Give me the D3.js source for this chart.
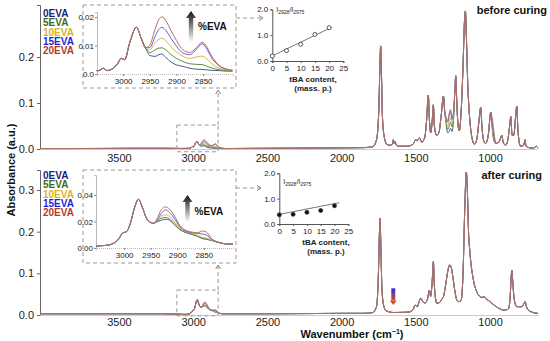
<!DOCTYPE html>
<html>
<head>
<meta charset="utf-8">
<script src="https://cdn.jsdelivr.net/npm/d3@7/dist/d3.min.js"></script>
<style>
  body { margin: 0; background: #fff; }
  svg { display: block; font-family: "Liberation Sans", Arial, sans-serif; }
</style>
</head>
<body>
<script>
// series
var seriesNames = ['0EVA', '5EVA', '10EVA', '15EVA', '20EVA'];
var legendColors = ['#1b1b82', '#3f6b1c', '#d8b41e', '#1f1fd6', '#b53a26'];
var lineColors = ['#4a5a92', '#5d8c40', '#d2b84a', '#6b5fd6', '#b0705f'];

var xTicks = [3500, 3000, 2500, 2000, 1500, 1000];
var insetTicks = [3000, 2950, 2900, 2850];
var tbaTicks = [0, 5, 10, 15, 20, 25];

// before curing, parts all samples share: [wavenumber, absorbance]
var beforeCommon = [
  [4032, 0.001], [3800, 0.001], [3600, 0.0012], [3400, 0.0015], [3200, 0.0015], [3100, 0.0012], [3060, 0.0012],
  [2785, 0.001], [2500, 0.0015], [2200, 0.002], [2000, 0.0025], [1850, 0.003], [1790, 0.005],
  [1765, 0.02], [1750, 0.08], [1742, 0.18], [1737, 0.224], [1732, 0.17], [1725, 0.07], [1712, 0.025],
  [1695, 0.01], [1670, 0.008], [1657, 0.012], [1652, 0.02], [1646, 0.012], [1640, 0.017], [1634, 0.01],
  [1615, 0.006], [1560, 0.006], [1520, 0.01], [1500, 0.02], [1490, 0.018], [1475, 0.024], [1460, 0.015],
  [1440, 0.025], [1428, 0.06], [1416, 0.117], [1408, 0.06], [1400, 0.035], [1390, 0.06], [1382, 0.096],
  [1375, 0.05], [1360, 0.03], [1345, 0.035], [1330, 0.07], [1314, 0.115], [1305, 0.08],
  [1238, 0.12], [1231, 0.159], [1224, 0.1], [1215, 0.05], [1207, 0.04], [1195, 0.08], [1182, 0.18],
  [1172, 0.28], [1166, 0.3], [1160, 0.25], [1150, 0.14], [1138, 0.07], [1125, 0.03], [1105, 0.01],
  [1090, 0.02], [1075, 0.06], [1063, 0.09], [1055, 0.05], [1040, 0.015], [1030, 0.012], [1012, 0.03],
  [995, 0.08], [960, 0.012], [940, 0.015], [928, 0.025], [921, 0.03], [912, 0.015], [895, 0.008],
  [880, 0.02], [868, 0.05], [860, 0.07], [852, 0.03], [840, 0.03], [828, 0.07], [820, 0.093],
  [812, 0.04], [795, 0.006], [775, 0.008], [768, 0.015], [764, 0.02], [758, 0.006], [720, 0.002],
  [700, 0.003], [690, 0.006], [677, 0.002]
];
// before curing, 1300-1245 band that grows with EVA
var beforeBandWn = [1298, 1285, 1275, 1266, 1256, 1247];
var beforeBand = [
  [0.06, 0.035, 0.038, 0.045, 0.038, 0.06],
  [0.062, 0.042, 0.05, 0.058, 0.048, 0.065],
  [0.065, 0.05, 0.06, 0.068, 0.056, 0.07],
  [0.068, 0.058, 0.072, 0.082, 0.064, 0.075],
  [0.07, 0.062, 0.078, 0.086, 0.068, 0.078]
];
var beforeBand2Wn = [985, 975];
var beforeBand2 = [
  [0.045, 0.02], [0.045, 0.02], [0.05, 0.025], [0.055, 0.03], [0.065, 0.04]
];
// before curing, C-H stretch region
var chBeforeCommon = [
  [3050, 0.0012], [3046, 0.0012], [3037, 0.002], [3030, 0.0012], [3021, 0.0017], [3012, 0.0032],
  [3003, 0.0055], [2997, 0.005], [2988, 0.0108], [2975, 0.0164], [2966, 0.0125], [2958, 0.0092]
];
var chBeforeWn = [2950, 2940, 2933, 2927, 2920, 2910, 2900, 2888, 2875, 2862, 2852, 2845, 2835, 2820, 2805, 2795];
var chBefore = [
  [0.0065, 0.0062, 0.0068, 0.007, 0.0058, 0.0042, 0.0032, 0.0027, 0.002, 0.0017, 0.0016, 0.0015, 0.0013, 0.0012, 0.001, 0.001],
  [0.0075, 0.0085, 0.0091, 0.0092, 0.0085, 0.0068, 0.0055, 0.0044, 0.0036, 0.0034, 0.0033, 0.0029, 0.0022, 0.0015, 0.0012, 0.0011],
  [0.0085, 0.011, 0.0122, 0.0126, 0.0117, 0.0095, 0.0078, 0.0062, 0.0055, 0.006, 0.0063, 0.0056, 0.0038, 0.002, 0.0014, 0.0012],
  [0.0093, 0.0132, 0.0157, 0.0164, 0.0153, 0.0125, 0.0098, 0.0074, 0.0068, 0.0088, 0.0106, 0.0094, 0.006, 0.0028, 0.0016, 0.0013],
  [0.0102, 0.0158, 0.0192, 0.0201, 0.0188, 0.0152, 0.0118, 0.0085, 0.0076, 0.0094, 0.0112, 0.0101, 0.0066, 0.003, 0.0017, 0.0013]
];

// after curing
var afterCommon = [
  [4032, 0.003], [3800, 0.003], [3500, 0.003], [3200, 0.003], [3060, 0.0015],
  [2790, 0.003], [2500, 0.003], [2200, 0.0035], [2000, 0.004], [1850, 0.004], [1790, 0.006],
  [1765, 0.02], [1752, 0.1], [1745, 0.2], [1741, 0.232], [1736, 0.17], [1728, 0.06], [1715, 0.02],
  [1700, 0.01], [1650, 0.006], [1550, 0.007], [1520, 0.012], [1505, 0.024], [1490, 0.02], [1475, 0.035],
  [1467, 0.04], [1455, 0.033], [1438, 0.029], [1420, 0.04], [1409, 0.06], [1400, 0.045], [1390, 0.08],
  [1382, 0.128], [1375, 0.07], [1365, 0.035], [1359, 0.028], [1340, 0.03], [1325, 0.038], [1314, 0.044],
  [1300, 0.07], [1285, 0.105], [1272, 0.12], [1262, 0.115], [1250, 0.09], [1238, 0.06], [1224, 0.036],
  [1210, 0.032], [1195, 0.035], [1182, 0.1], [1170, 0.26], [1160, 0.343], [1153, 0.3], [1145, 0.2],
  [1135, 0.148], [1112, 0.084], [1090, 0.056], [1067, 0.044], [1055, 0.042], [1040, 0.044], [1025, 0.038],
  [1011, 0.035], [988, 0.028], [950, 0.018], [910, 0.012], [885, 0.013], [876, 0.015], [865, 0.04],
  [858, 0.09], [853, 0.108], [847, 0.08], [838, 0.04], [820, 0.02], [786, 0.02], [772, 0.027],
  [764, 0.032], [755, 0.02], [742, 0.012], [710, 0.006], [685, 0.004], [677, 0.004]
];
var chAfterCommon = [
  [3053, 0.0015], [3040, 0.0018], [3030, 0.0022], [3020, 0.0035], [3010, 0.007], [3003, 0.0112],
  [2995, 0.0125], [2988, 0.019], [2980, 0.031], [2973, 0.0367], [2966, 0.031], [2958, 0.0225],
  [2950, 0.0192], [2945, 0.0186]
];
var chAfterWn = [2938, 2930, 2922, 2915, 2905, 2895, 2885, 2872, 2862, 2852, 2845, 2835, 2820, 2805, 2795];
var chAfter = [
  [0.0198, 0.021, 0.0217, 0.021, 0.0175, 0.0138, 0.0118, 0.0102, 0.0088, 0.007, 0.0066, 0.0056, 0.004, 0.003, 0.003],
  [0.02, 0.0225, 0.023, 0.022, 0.018, 0.014, 0.012, 0.0105, 0.009, 0.0072, 0.0068, 0.0058, 0.004, 0.003, 0.003],
  [0.0205, 0.024, 0.025, 0.024, 0.0195, 0.015, 0.0125, 0.011, 0.0095, 0.008, 0.0075, 0.006, 0.004, 0.003, 0.003],
  [0.021, 0.026, 0.0287, 0.027, 0.022, 0.016, 0.013, 0.0115, 0.011, 0.0105, 0.0098, 0.0065, 0.004, 0.003, 0.003],
  [0.022, 0.029, 0.031, 0.0295, 0.024, 0.017, 0.0135, 0.012, 0.0115, 0.0128, 0.012, 0.007, 0.004, 0.003, 0.003]
];

// I2928/I2975 vs tBA content
var tbaContent = [0, 5, 10, 15, 20];
var ratioBefore = [0.19, 0.40, 0.65, 1.03, 1.29];
var ratioAfter = [0.36, 0.38, 0.46, 0.53, 0.72];
var fitBefore = [[0, 0.2], [21, 1.31]];
var fitAfter = [[0, 0.38], [21.7, 0.84]];

var svg = d3.select('body').append('svg').attr('width', 550).attr('height', 341);

var defs = svg.append('defs');
var fadeGrad = defs.append('linearGradient').attr('id', 'fade').attr('x1', 0).attr('y1', 0).attr('x2', 0).attr('y2', 1);
fadeGrad.append('stop').attr('offset', '0%').attr('stop-color', '#111');
fadeGrad.append('stop').attr('offset', '100%').attr('stop-color', '#fff');
var curGrad = defs.append('linearGradient').attr('id', 'cur').attr('x1', 0).attr('y1', 0).attr('x2', 0).attr('y2', 1);
curGrad.append('stop').attr('offset', '0%').attr('stop-color', '#2a2ad0');
curGrad.append('stop').attr('offset', '45%').attr('stop-color', '#7a3a9a');
curGrad.append('stop').attr('offset', '100%').attr('stop-color', '#d0501a');

var x = d3.scaleLinear().domain([4032, 677]).range([40, 538]);

var merge = function(common, wns, vals) {
  var pts = common.concat(wns.map(function(w, i) { return [w, vals[i]]; }));
  return pts.sort(function(a, b) { return b[0] - a[0]; });
};

var drawAxesMain = function(y, ticks, labelPad) {
  var gy = svg.append('g').attr('transform', 'translate(40,0)')
    .call(d3.axisLeft(y).tickValues(ticks).tickFormat(d3.format('.1f')).tickSize(3).tickPadding(3));
  gy.select('.domain').attr('stroke', '#666');
  gy.selectAll('.tick line').attr('stroke', '#666');
  gy.selectAll('text').attr('font-size', 11).attr('fill', '#222');

  var gx = svg.append('g').attr('transform', 'translate(0,' + y(0) + ')')
    .call(d3.axisBottom(x).tickValues(xTicks).tickFormat(d3.format('d')).tickSize(0).tickPadding(labelPad));
  gx.select('.domain').attr('stroke', '#ccc');
  gx.selectAll('text').attr('font-size', 11).attr('fill', '#222');
};

var drawSpectra = function(g, xs, y, seriesPts) {
  var line = d3.line()
    .x(function(d) { return xs(d[0]); })
    .y(function(d) { return y(d[1]); })
    .curve(d3.curveMonotoneX);
  seriesPts.forEach(function(pts, i) {
    g.append('path').datum(pts)
      .attr('fill', 'none')
      .attr('stroke', lineColors[i])
      .attr('stroke-width', 1)
      .attr('d', line);
  });
};

var drawLegend = function(top) {
  seriesNames.forEach(function(name, i) {
    svg.append('text').attr('x', 43).attr('y', top + i * 9.3)
      .attr('font-size', 10).attr('font-weight', 'bold')
      .attr('fill', legendColors[i]).text(name);
  });
};

var dashed = function(sel) {
  return sel.attr('fill', 'none').attr('stroke', '#999').attr('stroke-width', 1).attr('stroke-dasharray', '4,3');
};

var arrowHead = function(px, py, dir) {
  // small open arrowhead, dir 'up' or 'right'
  var p = dir === 'up'
    ? [[px - 2.5, py + 4], [px, py], [px + 2.5, py + 4]]
    : [[px - 4, py - 2.5], [px, py], [px - 4, py + 2.5]];
  svg.append('path').attr('d', d3.line()(p)).attr('fill', 'none').attr('stroke', '#888').attr('stroke-width', 1);
};

var drawInset = function(box, xr, yDomain, yRange, yTicks, yFmt, seriesPts, arrowX, arrowTop, arrowBottom, evaY) {
  dashed(svg.append('rect')).attr('x', box[0]).attr('y', box[1]).attr('width', box[2] - box[0]).attr('height', box[3] - box[1]);
  var xi = d3.scaleLinear().domain(xr[0]).range(xr[1]);
  var yi = d3.scaleLinear().domain(yDomain).range(yRange);
  var ga = svg.append('g').attr('transform', 'translate(' + xr[1][0] + ',0)')
    .call(d3.axisLeft(yi).tickValues(yTicks).tickFormat(yFmt).tickSize(2).tickPadding(1));
  ga.select('.domain').attr('stroke', '#bbb');
  ga.selectAll('.tick line').attr('stroke', '#888');
  ga.selectAll('text').attr('font-size', 8).attr('fill', '#222');
  var gb = svg.append('g').attr('transform', 'translate(0,' + yRange[0] + ')')
    .call(d3.axisBottom(xi).tickValues(insetTicks).tickFormat(d3.format('d')).tickSize(2).tickPadding(2));
  gb.select('.domain').attr('stroke', '#bbb').attr('stroke-dasharray', '1,1');
  gb.selectAll('.tick line').attr('stroke', '#888');
  gb.selectAll('text').attr('font-size', 8).attr('fill', '#222');
  drawSpectra(svg.append('g'), xi, yi, seriesPts);

  // %EVA gradient arrow
  svg.append('path')
    .attr('d', d3.line()([[arrowX - 5, arrowTop + 7], [arrowX, arrowTop], [arrowX + 5, arrowTop + 7],
      [arrowX + 2.2, arrowTop + 7], [arrowX + 2.2, arrowBottom], [arrowX - 2.2, arrowBottom],
      [arrowX - 2.2, arrowTop + 7]]) + 'Z')
    .attr('fill', 'url(#fade)');
  svg.append('text').attr('x', arrowX + 7).attr('y', evaY)
    .attr('font-size', 10).attr('font-weight', 'bold').attr('fill', '#111').text('%EVA');
};

var drawRatio = function(xr, yr, top, values, fit, filled, labelX) {
  var xs = d3.scaleLinear().domain([0, 25]).range(xr);
  var ys = d3.scaleLinear().domain([0, 2]).range(yr);
  var ga = svg.append('g').attr('transform', 'translate(' + xr[0] + ',0)')
    .call(d3.axisLeft(ys).tickValues([0, 1, 2]).tickSize(2).tickPadding(2));
  var gb = svg.append('g').attr('transform', 'translate(0,' + yr[0] + ')')
    .call(d3.axisBottom(xs).tickValues(tbaTicks).tickSize(2).tickPadding(2));
  [ga, gb].forEach(function(g) {
    g.select('.domain').attr('stroke', '#555');
    g.selectAll('.tick line').attr('stroke', '#555');
    g.selectAll('text').attr('font-size', 8).attr('fill', '#222');
  });
  svg.append('path').datum(fit)
    .attr('d', d3.line().x(function(d) { return xs(d[0]); }).y(function(d) { return ys(d[1]); }))
    .attr('stroke', '#555').attr('stroke-width', 0.8).attr('fill', 'none');
  svg.append('g').selectAll('circle').data(values).join('circle')
    .attr('cx', function(d, i) { return xs(tbaContent[i]); })
    .attr('cy', function(d) { return ys(d); })
    .attr('r', 2)
    .attr('fill', filled ? '#111' : '#fff')
    .attr('stroke', '#333').attr('stroke-width', 0.8);

  var lab = svg.append('text').attr('x', xr[0] + 4).attr('y', top).attr('font-size', 7).attr('fill', '#222');
  lab.append('tspan').text('I');
  lab.append('tspan').attr('font-size', 5).attr('dy', 1.5).text('2928');
  lab.append('tspan').attr('dy', -1.5).text('/I');
  lab.append('tspan').attr('font-size', 5).attr('dy', 1.5).text('2975');

  var cap = svg.append('text').attr('font-size', 8).attr('font-weight', 'bold').attr('fill', '#222')
    .attr('text-anchor', 'middle');
  cap.append('tspan').attr('x', labelX).attr('y', yr[0] + 21).text('tBA content,');
  cap.append('tspan').attr('x', labelX).attr('y', yr[0] + 29.5).text('(mass. p.)');
};

// ---------- before curing ----------
var yTop = d3.scaleLinear().domain([0, 0.313]).range([149, 5]);
drawAxesMain(yTop, [0, 0.1, 0.2], 5);
var beforeSeries = seriesNames.map(function(n, i) {
  var pts = merge(beforeCommon.concat(chBeforeCommon), chBeforeWn, chBefore[i]);
  pts = merge(pts, beforeBandWn, beforeBand[i]);
  return merge(pts, beforeBand2Wn, beforeBand2[i]);
});
drawSpectra(svg.append('g'), x, yTop, beforeSeries);

// ---------- after curing ----------
var yBot = d3.scaleLinear().domain([0, 0.348]).range([315, 170]);
drawAxesMain(yBot, [0, 0.1, 0.2, 0.3], 3);
var afterSeries = seriesNames.map(function(n, i) {
  return merge(afterCommon.concat(chAfterCommon), chAfterWn, chAfter[i]);
});
drawSpectra(svg.append('g'), x, yBot, afterSeries);

// C=C band marker after curing
var mx = x(1652);
svg.append('rect').attr('x', mx - 2).attr('y', yBot(0.064)).attr('width', 4).attr('height', yBot(0.035) - yBot(0.064))
  .attr('fill', 'url(#cur)');
svg.append('path')
  .attr('d', d3.line()([[mx - 3.5, yBot(0.035)], [mx + 3.5, yBot(0.035)], [mx, yBot(0.024)]]) + 'Z')
  .attr('fill', '#d0501a');

drawLegend(17);
drawLegend(179);

// zoom boxes on main spectra and connectors
var boxL = x(3110), boxR = x(2832);
dashed(svg.append('rect')).attr('x', boxL).attr('y', yTop(0.052)).attr('width', boxR - boxL).attr('height', yTop(-0.006) - yTop(0.052));
dashed(svg.append('line')).attr('x1', boxR).attr('x2', boxR).attr('y1', yTop(0.052)).attr('y2', 90);
arrowHead(boxR, 90, 'up');
dashed(svg.append('rect')).attr('x', boxL).attr('y', yBot(0.06)).attr('width', boxR - boxL).attr('height', yBot(-0.002) - yBot(0.06));
dashed(svg.append('line')).attr('x1', boxR).attr('x2', boxR).attr('y1', yBot(0.06)).attr('y2', 265);
arrowHead(boxR, 265, 'up');

drawInset([83, 5, 236, 88], [[3049, 2794], [97, 233]], [0, 0.0218], [74, 12], [0, 0.01, 0.02],
  function(d) { return d === 0 ? '0.0' : d3.format('.2f')(d); },
  seriesNames.map(function(n, i) { return merge(chBeforeCommon, chBeforeWn, chBefore[i]); }),
  191, 11, 42, 30);
drawInset([83, 170, 236, 263], [[3053, 2795], [96, 233]], [0, 0.055], [248, 175.1], [0, 0.02, 0.04],
  d3.format('.2f'),
  seriesNames.map(function(n, i) { return merge(chAfterCommon, chAfterWn, chAfter[i]); }),
  187.5, 195, 222, 215);

dashed(svg.append('line')).attr('x1', 236).attr('x2', 263).attr('y1', 18).attr('y2', 18);
arrowHead(263, 18, 'right');
dashed(svg.append('line')).attr('x1', 236).attr('x2', 261).attr('y1', 188).attr('y2', 188);
arrowHead(261, 188, 'right');

drawRatio([272.3, 343.3], [61, 9.4], 12, ratioBefore, fitBefore, false, 313);
drawRatio([279.3, 348.3], [224, 173.3], 184, ratioAfter, fitAfter, true, 326);

// titles
svg.append('text').attr('x', 547).attr('y', 14).attr('text-anchor', 'end')
  .attr('font-size', 11).attr('font-weight', 'bold').attr('fill', '#111').text('before curing');
svg.append('text').attr('x', 542).attr('y', 179).attr('text-anchor', 'end')
  .attr('font-size', 11).attr('font-weight', 'bold').attr('fill', '#111').text('after curing');

svg.append('text').attr('transform', 'translate(15,170) rotate(-90)').attr('text-anchor', 'middle')
  .attr('font-size', 11).attr('font-weight', 'bold').attr('fill', '#111').text('Absorbance (a.u.)');

var xl = svg.append('text').attr('x', 352).attr('y', 338).attr('text-anchor', 'middle')
  .attr('font-size', 11).attr('font-weight', 'bold').attr('fill', '#111');
xl.append('tspan').text('Wavenumber (cm');
xl.append('tspan').attr('font-size', 7).attr('dy', -4).text('\u22121');
xl.append('tspan').attr('dy', 4).text(')');
</script>
</body>
</html>
